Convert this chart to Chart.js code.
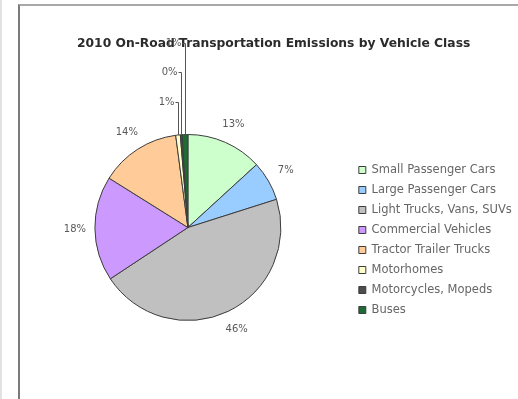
<!DOCTYPE html>
<html>
<head>
<meta charset="utf-8">
<script src="https://cdn.jsdelivr.net/npm/chart.js@4.4.1/dist/chart.umd.min.js"></script>
<style>
  html, body { margin: 0; padding: 0; background: #fff; }
  body { width: 518px; height: 399px; overflow: hidden; position: relative; }
  .edge { position: absolute; left: 0; top: 0; width: 2px; height: 399px; background: #e2e2e2; }
  .frame {
    position: absolute; left: 18px; top: 4px; width: 500px; height: 395px;
    border-left: 2px solid #7a7a7a; border-top: 2px solid #a8a8a8;
  }
  .frame canvas { position: absolute; left: 0; top: 0; }
</style>
</head>
<body>
<div class="edge"></div>
<div class="frame"><canvas id="emissions" width="498" height="393"></canvas></div>
<script>
const categories = [
  'Small Passenger Cars',
  'Large Passenger Cars',
  'Light Trucks, Vans, SUVs',
  'Commercial Vehicles',
  'Tractor Trailer Trucks',
  'Motorhomes',
  'Motorcycles, Mopeds',
  'Buses'
];
// share of 2010 on-road emissions, percent
const emissionShares = [13.2, 6.9, 45.6, 18.2, 14.0, 0.8, 0.3, 1.0];
const sliceColors = ['#ccffcc', '#99ccff', '#c0c0c0', '#cc99ff', '#ffcc99', '#ffffcc', '#4d4d4d', '#1e6b35'];

const FONT = '"DejaVu Sans"';

// percent labels outside the pie; tiny slices get stacked labels with leader lines
const sliceLabels = {
  id: 'sliceLabels',
  afterDatasetsDraw(chart) {
    const ctx = chart.ctx;
    const meta = chart.getDatasetMeta(0);
    const values = chart.data.datasets[0].data;
    const total = values.reduce((a, b) => a + b, 0);
    ctx.save();
    ctx.font = '10px ' + FONT;
    ctx.fillStyle = '#595959';
    ctx.strokeStyle = '#555555';
    ctx.lineWidth = 1;
    ctx.textBaseline = 'middle';
    let stacked = 0;
    meta.data.forEach((arc, i) => {
      const { x, y, startAngle, endAngle, outerRadius } =
        arc.getProps(['x', 'y', 'startAngle', 'endAngle', 'outerRadius'], true);
      const mid = (startAngle + endAngle) / 2;
      const share = values[i] / total;
      const text = Math.round(share * 100) + '%';
      if (share >= 0.02) {
        const d = outerRadius + 20;
        ctx.textAlign = 'center';
        ctx.fillText(text, x + d * Math.cos(mid), y + d * Math.sin(mid));
      } else {
        const ex = Math.round(x + outerRadius * Math.cos(mid)) + 0.5;
        const ey = y + outerRadius * Math.sin(mid);
        const ly = Math.round(y - outerRadius - 33 - stacked * 29.5) + 0.5;
        stacked++;
        ctx.beginPath();
        ctx.moveTo(ex, ey);
        ctx.lineTo(ex, ly);
        ctx.lineTo(ex - 3, ly);
        ctx.stroke();
        ctx.textAlign = 'right';
        ctx.fillText(text, ex - 4, ly);
      }
    });
    ctx.restore();
  }
};

new Chart(document.getElementById('emissions'), {
  type: 'pie',
  data: {
    labels: categories,
    datasets: [{
      data: emissionShares,
      backgroundColor: sliceColors,
      borderColor: '#3c3c3c',
      borderWidth: 1,
      radius: 93
    }]
  },
  options: {
    responsive: false,
    animation: false,
    layout: { padding: { left: 5.5, right: -3.75, top: 30.6, bottom: 5.36 } },
    plugins: {
      tooltip: { enabled: false },
      title: {
        display: true,
        text: '2010 On-Road Transportation Emissions by Vehicle Class',
        color: '#2b2b2b',
        font: { size: 12.3, weight: 'bold', family: FONT },
        padding: { top: 0, bottom: 10 }
      },
      legend: {
        position: 'right',
        fullSize: false,
        title: { display: true, text: '', font: { size: 10 }, padding: { top: 13, bottom: 0 } },
        labels: {
          boxWidth: 7,
          boxHeight: 7,
          padding: 8.5,
          color: '#666666',
          font: { size: 11.5, family: FONT }
        }
      }
    }
  },
  plugins: [sliceLabels]
});
</script>
</body>
</html>
